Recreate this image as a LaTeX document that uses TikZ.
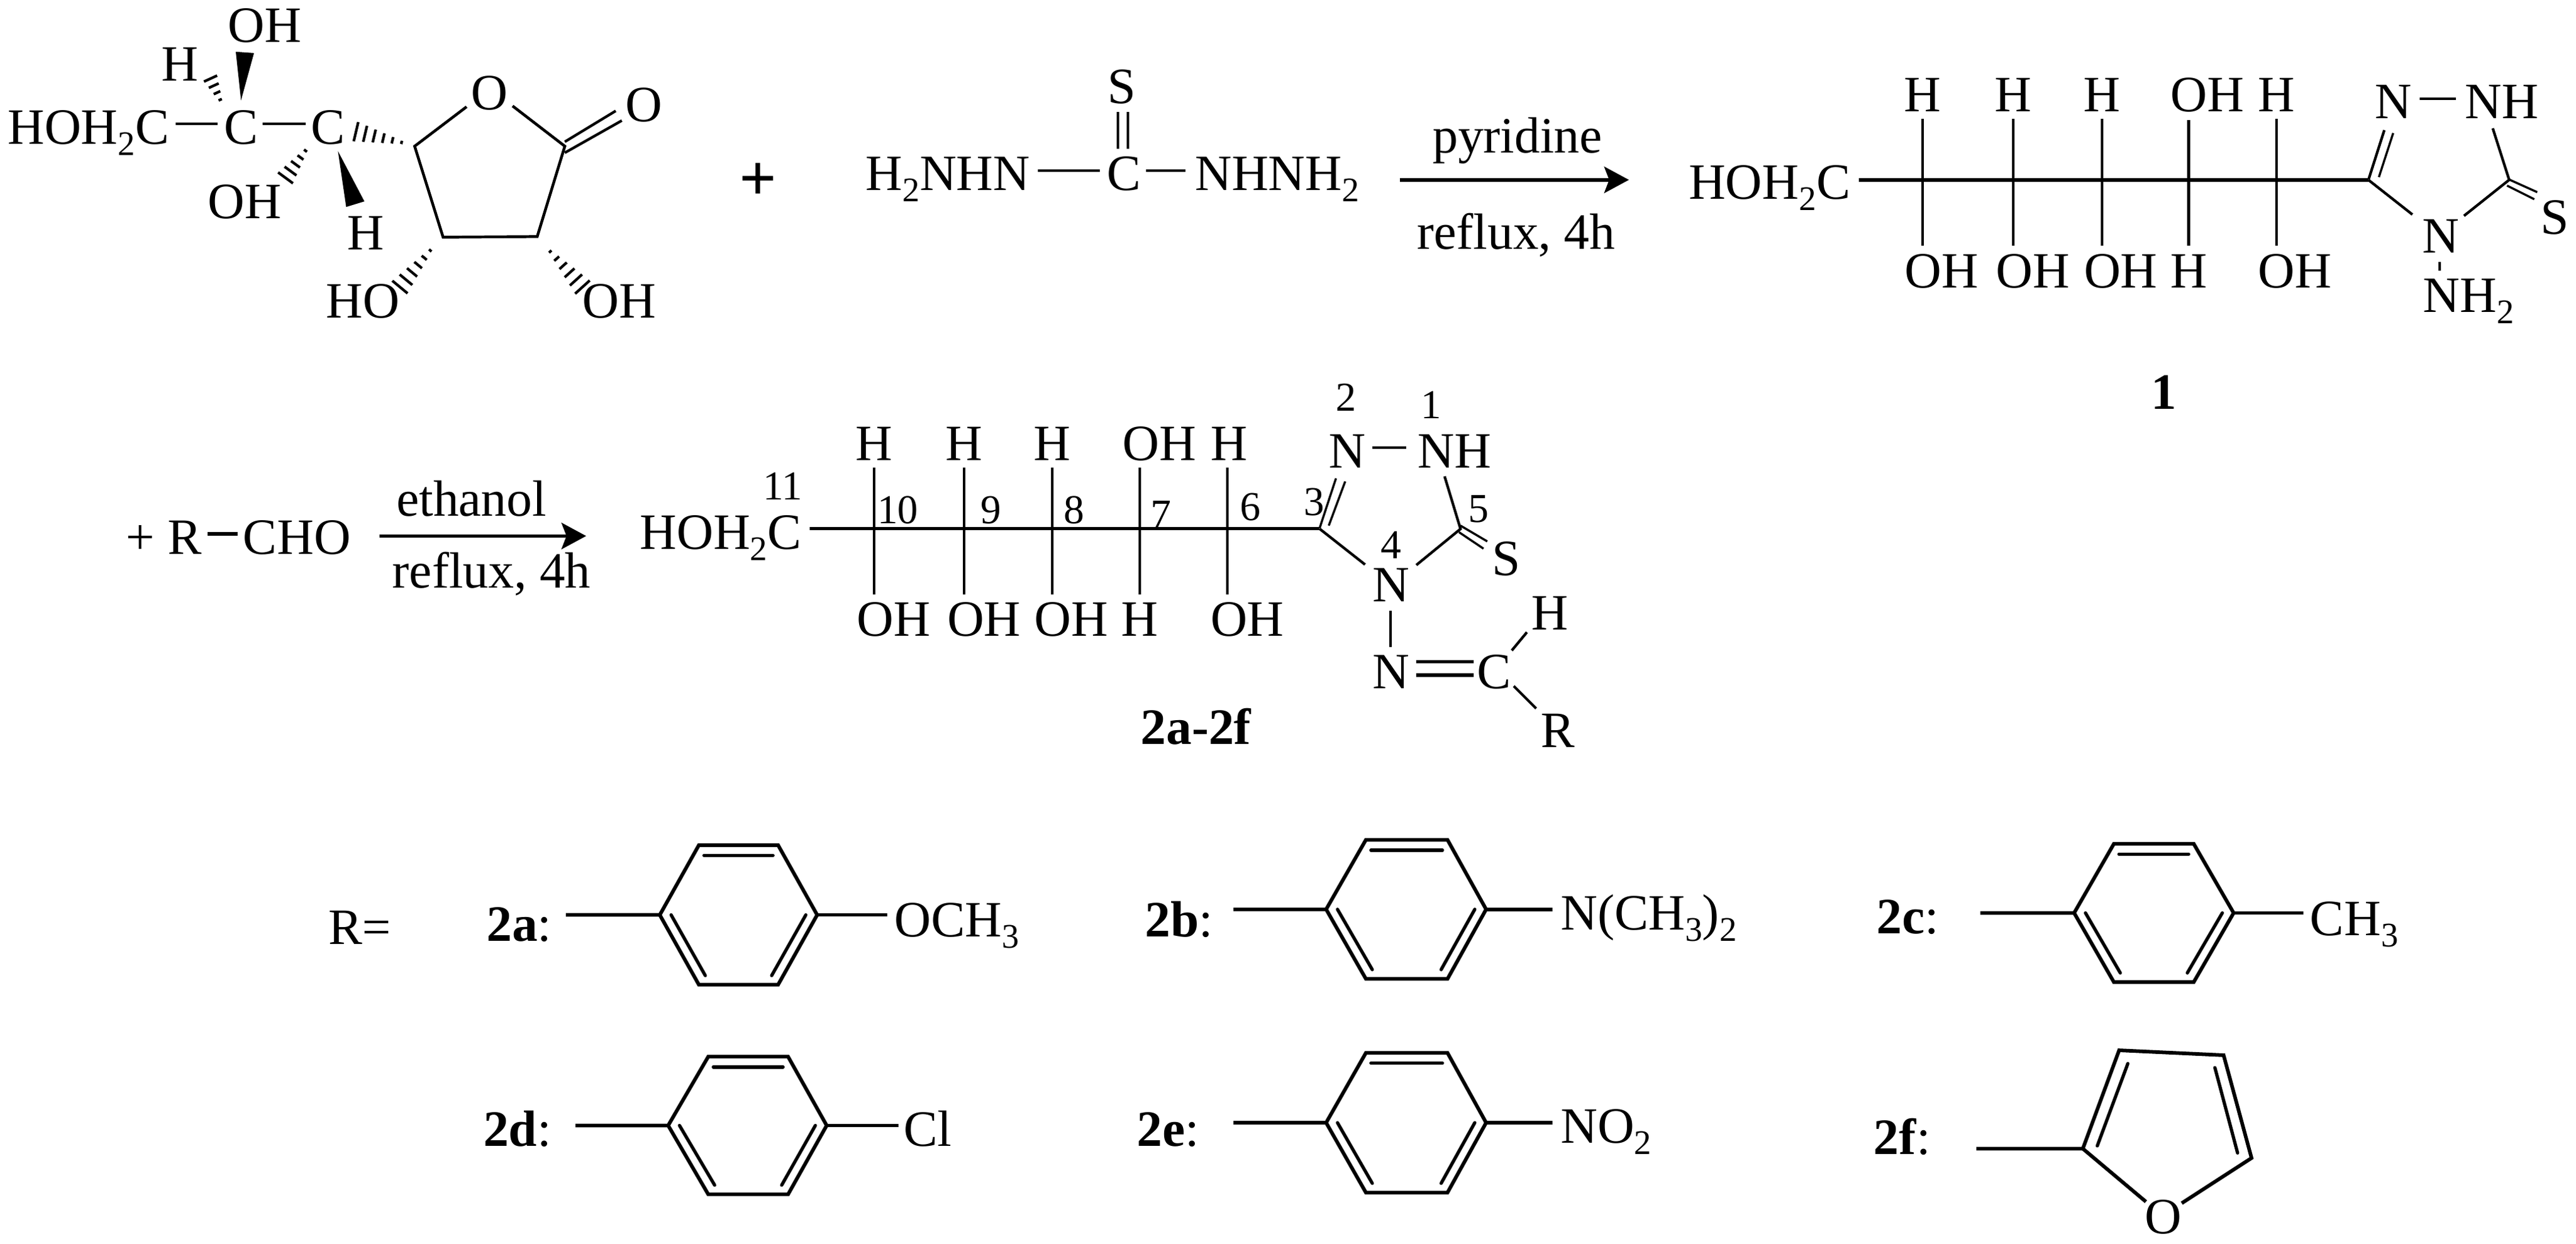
\documentclass[tikz,border=0pt]{standalone}
\usepackage{fontspec}
\setmainfont{Liberation Serif}
\usetikzlibrary{calc,arrows.meta}
\newcommand\sbs[1]{\raisebox{-0.22em}{\fontsize{10.5pt}{12pt}\selectfont #1}}
\tikzset{
  atom/.style={inner sep=0pt,outer sep=0pt,anchor=base,font=\fontsize{15.5pt}{18pt}\selectfont},
  atomw/.style={atom,anchor=base west},
  num/.style={inner sep=0pt,outer sep=0pt,anchor=base,font=\fontsize{12.5pt}{14pt}\selectfont},
  bond/.style={line width=0.8pt,line cap=butt},
  chain/.style={line width=1pt},
  ringb/.style={line width=1.1pt,line join=miter},
  innerb/.style={line width=1pt,line cap=round},
  rxn/.style={line width=1.05pt,-{Stealth[length=7.5pt,width=8pt,inset=1.5pt]}}
}
% hashed wedge: narrow at #1, wide at #2, #3 strokes, half width #4 (pt)
\newcommand\hashw[4]{%
  \foreach \i in {1,...,#3}{%
    \pgfmathsetmacro\tt{\i/#3*0.98}%
    \pgfmathsetmacro\hw{#4*\i/#3}%
    \coordinate (hp) at ($(#1)!\tt!(#2)$);
    \draw[line width=0.8pt] ($(hp)!\hw pt!90:(#2)$) -- ($(hp)!\hw pt!-90:(#2)$);
  }%
}
% benzene: prefix, tether x, left x, top-left x, top-right x, right x, end x, top y, mid y
\newcommand\benz[9]{%
  \pgfmathsetmacro\by{2*#9-#8}%
  \pgfmathsetmacro\ily{\by-5.6}%
  \pgfmathsetmacro\ity{#8+6.3}%
  \pgfmathsetmacro\ala{#3+6.9}%
  \pgfmathsetmacro\alb{#4+3.9}%
  \pgfmathsetmacro\ara{#6-6.9}%
  \pgfmathsetmacro\arb{#5-3.9}%
  \pgfmathsetmacro\ita{#4+3.1}%
  \pgfmathsetmacro\itb{#5-3.1}%
  \coordinate (#1t) at (#2,#9);
  \coordinate (#1l) at (#3,#9);
  \coordinate (#1tl) at (#4,#8);
  \coordinate (#1tr) at (#5,#8);
  \coordinate (#1r) at (#6,#9);
  \coordinate (#1e) at (#7,#9);
  \coordinate (#1br) at (#5,\by);
  \coordinate (#1bl) at (#4,\by);
  \draw[ringb] (#1t) -- (#1l) -- (#1tl) -- (#1tr) -- (#1r) -- (#1br) -- (#1bl) -- (#1l);
  \draw[ringb] (#1r) -- (#1e);
  \coordinate (#1ia) at (\ita,\ity);
  \coordinate (#1ib) at (\itb,\ity);
  \coordinate (#1ic) at (\ala,#9);
  \coordinate (#1id) at (\alb,\ily);
  \coordinate (#1ie) at (\ara,#9);
  \coordinate (#1if) at (\arb,\ily);
  \draw[innerb] (#1ia) -- (#1ib);
  \draw[innerb] (#1ic) -- (#1id);
  \draw[innerb] (#1ie) -- (#1if);
}
\begin{document}
\begin{tikzpicture}[x=0.5pt,y=-0.5pt]
\fill[white] (0,0) rectangle (1568,757);
\useasboundingbox (0,0) rectangle (1568,757);

%% ---------- lactone ----------
\node[atomw] (sA) at (4.7,87.6) {HOH\sbs{2}C};
\node[atom] (sC2) at (146.7,87.6) {C};
\node[atom] (sC3) at (199.7,87.6) {C};
\node[atom] (sOHt) at (161,25.8) {OH};
\node[atom] (sHt) at (109.5,49.2) {H};
\node[atom] (sOHb) at (149,132.9) {OH};
\node[atom] (sHb) at (222.7,152.2) {H};
\node[atom] (sO) at (298,66.6) {O};
\node[atom] (sOc) at (391.8,74) {O};
\node[atom] (sHO) at (220.8,193.6) {HO};
\node[atom] (sOH) at (377,193.6) {OH};
\node[atom,font=\fontsize{20pt}{22pt}\selectfont\bfseries] (plus) at (461.6,122) {+};

\coordinate (b1a) at (107,75.4); \coordinate (b1b) at (132.5,75.4);
\coordinate (b2a) at (160,75.4); \coordinate (b2b) at (186,75.4);
\draw[bond] (b1a) -- (b1b);
\draw[bond] (b2a) -- (b2b);

\coordinate (w1t) at (146.7,61.1); \coordinate (w1a) at (143.5,31.5); \coordinate (w1b) at (154.6,32.3);
\fill (w1t) -- (w1a) -- (w1b) -- cycle;
\coordinate (w2t) at (205.7,92); \coordinate (w2a) at (210.7,126); \coordinate (w2b) at (221.8,122.6);
\fill (w2t) -- (w2a) -- (w2b) -- cycle;

\coordinate (h1a) at (136,65); \coordinate (h1b) at (128,47.5);
\hashw{h1a}{h1b}{4}{2.2}
\coordinate (h2a) at (189,87.6); \coordinate (h2b) at (173.5,108.7);
\hashw{h2a}{h2b}{5}{2.8}
\coordinate (h3a) at (250,88); \coordinate (h3b) at (216,80);
\hashw{h3a}{h3b}{6}{3}
\coordinate (h4a) at (265.6,148); \coordinate (h4b) at (243,175.3);
\hashw{h4a}{h4b}{6}{3}
\coordinate (h5a) at (331,148.8); \coordinate (h5b) at (355,175.3);
\hashw{h5a}{h5b}{6}{3}

\coordinate (rA) at (252.4,89); \coordinate (rAO) at (284,65);
\coordinate (rBO) at (312,64.5); \coordinate (rB) at (343.8,89);
\coordinate (rC) at (327,144); \coordinate (rD) at (269.7,144.4);
\draw[bond,line width=0.85pt,line join=miter] (rAO) -- (rA) -- (rD) -- (rC) -- (rB) -- (rBO);
\coordinate (co1a) at (343.8,86.3); \coordinate (co1b) at (374.8,67.5);
\coordinate (co2a) at (343.8,93); \coordinate (co2b) at (378.5,73.4);
\draw[bond] (co1a) -- (co1b);
\draw[bond] (co2a) -- (co2b);

%% ---------- thiocarbohydrazide ----------
\node[atomw] (tA) at (527,116) {H\sbs{2}NHN};
\node[atom] (tC) at (684,116) {C};
\node[atomw] (tB) at (727.4,116) {NHNH\sbs{2}};
\node[atom] (tS) at (683,62.8) {S};
\coordinate (t1a) at (631.6,104); \coordinate (t1b) at (669.6,104);
\coordinate (t2a) at (697.5,104); \coordinate (t2b) at (721.6,104);
\draw[bond] (t1a) -- (t1b);
\draw[bond] (t2a) -- (t2b);
\coordinate (t3a) at (680.5,68.2); \coordinate (t3b) at (680.5,90.7);
\coordinate (t4a) at (686.5,68.2); \coordinate (t4b) at (686.5,90.7);
\draw[bond,line width=0.65pt] (t3a) -- (t3b);
\draw[bond,line width=0.65pt] (t4a) -- (t4b);

\node[atom] (py) at (923.7,93) {pyridine};
\node[atom] (rf1) at (922.8,151.6) {ref\kern0pt lux, 4h};
\coordinate (ar1a) at (852,109.5); \coordinate (ar1b) at (991.5,109.5);
\draw[rxn] (ar1a) -- (ar1b);

%% ---------- compound 1 ----------
\node[atomw] (cA) at (1028,121.3) {HOH\sbs{2}C};
\coordinate (cM0) at (1131.4,109.6); \coordinate (cC3) at (1441.7,109.6);
\draw[chain] (cM0) -- (cC3);
\foreach \n/\x/\yt in {1/1170.3/72.4,2/1225.6/72.4,3/1279.4/72.4,4/1332.2/73,5/1385.7/72.4}{
  \coordinate (cU\n) at (\x,\yt);
  \coordinate (cD\n) at (\x,149.6);
  \draw[bond] (cU\n) -- (cD\n);
}
\node[atom] (cT1) at (1170.3,67.9) {H};
\node[atom] (cT2) at (1225.6,67.9) {H};
\node[atom] (cT3) at (1279.4,67.9) {H};
\node[atom] (cT4) at (1343.6,67.9) {OH};
\node[atom] (cT5) at (1385.7,67.9) {H};
\node[atom] (cB1) at (1182,175.1) {OH};
\node[atom] (cB2) at (1237.4,175.1) {OH};
\node[atom] (cB3) at (1290.9,175.1) {OH};
\node[atom] (cB4) at (1332.2,175.1) {H};
\node[atom] (cB5) at (1397,175.1) {OH};
\node[atom] (cN2) at (1457,72) {N};
\node[atom] (cN1) at (1523,72) {NH};
\node[atom] (cN4) at (1485.6,154) {N};
\node[atom] (cS) at (1555,142.6) {S};
\node[atomw] (cNH2) at (1474.9,190) {NH\sbs{2}};
\node[atom,font=\fontsize{15.5pt}{18pt}\selectfont\bfseries] (c1) at (1317.2,249.1) {1};
\coordinate (c12a) at (1473,60); \coordinate (c12b) at (1495,60);
\draw[bond] (c12a) -- (c12b);
\coordinate (cd1a) at (1441.7,109.3); \coordinate (cd1b) at (1451.3,79.2);
\coordinate (cd2a) at (1448,107.8); \coordinate (cd2b) at (1456.7,81);
\draw[bond] (cd1a) -- (cd1b);
\draw[bond,line width=0.65pt] (cd2a) -- (cd2b);
\coordinate (cn1) at (1517.3,78.1); \coordinate (cC5) at (1527.3,109.5);
\coordinate (cn4a) at (1468.4,130.6); \coordinate (cn4b) at (1499.8,131.4);
\draw[bond] (cn1) -- (cC5) -- (cn4b);
\draw[bond] (cC3) -- (cn4a);
\coordinate (cs1a) at (1527.3,109.3); \coordinate (cs1b) at (1544.4,117);
\coordinate (cs2a) at (1526,113); \coordinate (cs2b) at (1542.6,121.3);
\draw[bond,line width=0.65pt] (cs1a) -- (cs1b);
\draw[bond,line width=0.65pt] (cs2a) -- (cs2b);
\coordinate (cnn1) at (1484.9,159.6); \coordinate (cnn2) at (1484.9,164.9);
\draw[bond] (cnn1) -- (cnn2);

%% ---------- second line ----------
\node[atom] (xplus) at (85.4,337.4) {+};
\node[atom] (xR) at (112.6,337.4) {R};
\node[atomw] (xCHO) at (148,337.4) {CHO};
\coordinate (xb1) at (126.2,325); \coordinate (xb2) at (144.8,325);
\draw[bond,line width=1.1pt] (xb1) -- (xb2);
\node[atom] (eth) at (287,314.3) {ethanol};
\node[atom] (rf2) at (299.2,358.1) {ref\kern0pt lux, 4h};
\coordinate (ar2a) at (231,326.3); \coordinate (ar2b) at (356.8,326.3);
\draw[rxn] (ar2a) -- (ar2b);

%% ---------- compounds 2a-2f ----------
\node[atomw] (dA) at (389.5,334.4) {HOH\sbs{2}C};
\coordinate (dM0) at (492.9,321.9); \coordinate (dC3) at (803.2,321.9);
\draw[chain] (dM0) -- (dC3);
\foreach \n/\x in {1/532.1,2/587,3/640.6,4/693.9,5/747.2}{
  \coordinate (dU\n) at (\x,284.8);
  \coordinate (dD\n) at (\x,362);
  \draw[bond] (dU\n) -- (dD\n);
}
\node[atom] (dT1) at (532.1,280.4) {H};
\node[atom] (dT2) at (587,280.4) {H};
\node[atom] (dT3) at (640.6,280.4) {H};
\node[atom] (dT4) at (705.9,280.4) {OH};
\node[atom] (dT5) at (748,280.4) {H};
\node[atom] (dB1) at (544.1,387.3) {OH};
\node[atom] (dB2) at (599,387.3) {OH};
\node[atom] (dB3) at (652.2,387.3) {OH};
\node[atom] (dB4) at (693.9,387.3) {H};
\node[atom] (dB5) at (759.2,387.3) {OH};
\node[atom] (dN2) at (820,284.8) {N};
\node[atom] (dN1) at (885.3,284.8) {NH};
\node[atom] (dN4) at (846.9,366.4) {N};
\node[atom] (dS) at (917,350.4) {S};
\node[atom] (dN6) at (846.9,419.3) {N};
\node[atom] (dC) at (909.4,419.3) {C};
\node[atom] (dH) at (943.4,383.3) {H};
\node[atom] (dR) at (948.2,454.8) {R};
\node[atom,font=\fontsize{15.5pt}{18pt}\selectfont\bfseries] (dL) at (728,453) {2a-2f};
\node[num] (n2) at (819.2,250.3) {2};
\node[num] (n1) at (871,254.7) {1};
\node[num] (n11) at (476.4,304.3) {11};
\node[num] (n10) at (546.5,318.7) {10};
\node[num] (n9) at (603,318.7) {9};
\node[num] (n8) at (653.8,318.7) {8};
\node[num] (n7) at (706.7,321.3) {7};
\node[num] (n6) at (761.2,316.8) {6};
\node[num] (n3) at (800,313.9) {3};
\node[num] (n5) at (900.1,318) {5};
\node[num] (n4) at (846.9,340) {4};
\coordinate (d12a) at (835.3,272.4); \coordinate (d12b) at (856.1,272.4);
\draw[bond] (d12a) -- (d12b);
\coordinate (dd1a) at (803.2,321.6); \coordinate (dd1b) at (813.2,291.2);
\coordinate (dd2a) at (808.8,320); \coordinate (dd2b) at (818.8,293.1);
\draw[bond,line width=0.65pt] (dd1a) -- (dd1b);
\draw[bond,line width=0.65pt] (dd2a) -- (dd2b);
\coordinate (dn1) at (879.3,290); \coordinate (dC5) at (889,322);
\coordinate (dn4a) at (830.9,343.7); \coordinate (dn4b) at (862.1,344);
\draw[bond] (dn1) -- (dC5) -- (dn4b);
\draw[bond] (dC3) -- (dn4a);
\coordinate (ds1a) at (889,320); \coordinate (ds1b) at (905.3,329.6);
\coordinate (ds2a) at (888.1,324); \coordinate (ds2b) at (903,334);
\draw[bond,line width=0.65pt] (ds1a) -- (ds1b);
\draw[bond,line width=0.65pt] (ds2a) -- (ds2b);
\coordinate (dnn1) at (846.5,371.7); \coordinate (dnn2) at (846.5,393.7);
\draw[bond] (dnn1) -- (dnn2);
\coordinate (dq1a) at (862,402.8); \coordinate (dq1b) at (897,402.8);
\coordinate (dq2a) at (862,411); \coordinate (dq2b) at (897,411);
\draw[bond,line width=1.1pt] (dq1a) -- (dq1b);
\draw[bond,line width=1.1pt] (dq2a) -- (dq2b);
\coordinate (dh1) at (920.2,396); \coordinate (dh2) at (929.4,384.9);
\draw[bond] (dh1) -- (dh2);
\coordinate (dr1) at (921.4,417.7); \coordinate (dr2) at (935,431.3);
\draw[bond] (dr1) -- (dr2);

%% ---------- R groups ----------
\node[atomw] (Req) at (200,575) {R=};
\node[atomw] (L2a) at (296.2,572.8) {\textbf{2a}:};
\node[atomw] (L2b) at (697.1,570.2) {\textbf{2b}:};
\node[atomw] (L2c) at (1142.3,568.5) {\textbf{2c}:};
\node[atomw] (L2d) at (294.2,697.6) {\textbf{2d}:};
\node[atomw] (L2e) at (692,697.6) {\textbf{2e}:};
\node[atomw] (L2f) at (1140.4,702.7) {\textbf{2f}:};
\benz{a}{344.5}{401.6}{425.4}{473.6}{497.4}{539.9}{514.5}{557}
\benz{b}{750.7}{807.2}{831.4}{881.1}{904.6}{944.8}{511.3}{553.6}
\benz{c}{1205.4}{1262.5}{1286.7}{1335.3}{1359.6}{1402}{513.7}{555.8}
\benz{d}{350.3}{406.7}{431.1}{479.7}{503.2}{546.7}{643.3}{685.2}
\benz{e}{750.7}{807.2}{831.4}{881.1}{904.6}{944.8}{641}{683.5}
\node[atomw] (Ra) at (544.3,570.2) {OCH\sbs{3}};
\node[atomw] (Rb) at (950,566) {N(CH\sbs{3})\sbs{2}};
\node[atomw] (Rc) at (1406.2,569.4) {CH\sbs{3}};
\node[atomw] (Rd) at (550,697.6) {Cl};
\node[atomw] (Re) at (950,696) {NO\sbs{2}};
% furan
\node[atom] (fO) at (1316.6,751) {O};
\coordinate (ft) at (1203,699.3);
\coordinate (fa) at (1267.8,699.3);
\coordinate (fb) at (1289.9,639.4);
\coordinate (fc) at (1353.5,642.4);
\coordinate (fd) at (1370.5,705);
\coordinate (fe) at (1328,732.5);
\coordinate (ff) at (1306.2,731.6);
\draw[ringb] (ft) -- (fa) -- (fb) -- (fc) -- (fd) -- (fe);
\draw[ringb] (fa) -- (ff);
\coordinate (fi1) at (1276.6,697.6); \coordinate (fi2) at (1295.2,647.5);
\coordinate (fi3) at (1348.2,650); \coordinate (fi4) at (1362,701.9);
\draw[innerb] (fi1) -- (fi2);
\draw[innerb] (fi3) -- (fi4);
\end{tikzpicture}
\end{document}
